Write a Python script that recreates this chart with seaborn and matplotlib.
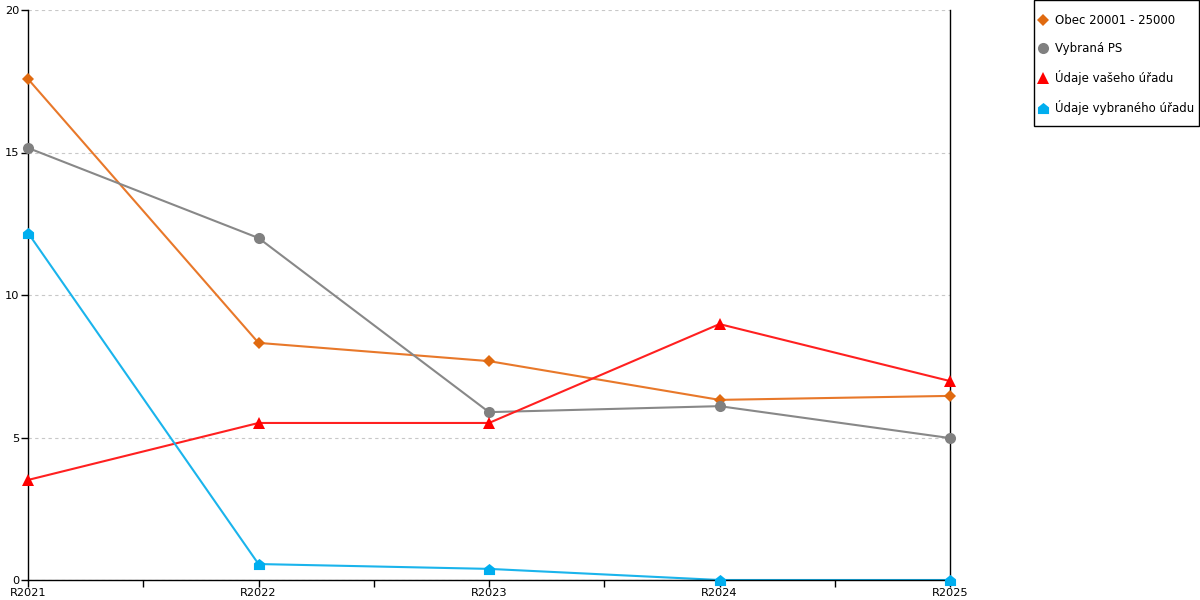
import matplotlib
matplotlib.use("Agg")
import matplotlib.pyplot as plt
import matplotlib.patches as mpatches
import seaborn as sns
import pandas as pd
import numpy as np
from matplotlib.path import Path

years = ["R2021", "R2022", "R2023", "R2024", "R2025"]
obec = [17.58, 8.32, 7.68, 6.32, 6.46]
vybrana_ps = [15.16, 12.0, 5.89, 6.1, 4.98]
vaseho = [3.51, 5.51, 5.51, 8.98, 6.98]
vybraneho = [12.18, 0.56, 0.39, 0.0, 0.0]

series_names = ["Obec 20001 - 25000", "Vybraná PS", "Údaje vašeho úřadu", "Údaje vybraného úřadu"]
series_vals = [obec, vybrana_ps, vaseho, vybraneho]

rows = []
for name, vals in zip(series_names, series_vals):
    for i, (y, v) in enumerate(zip(years, vals)):
        rows.append({"series": name, "x": i, "value": v})
df = pd.DataFrame(rows)

sns.set_theme(style="white")
plt.rcParams['font.family'] = ['DejaVu Sans']
plt.rcParams['text.color'] = 'black'
plt.rcParams['xtick.color'] = 'black'
plt.rcParams['ytick.color'] = 'black'

house = Path([(-1, -1), (1, -1), (1, 0.2), (0, 1), (-1, 0.2), (-1, -1)],
             [Path.MOVETO, Path.LINETO, Path.LINETO, Path.LINETO, Path.LINETO, Path.CLOSEPOLY])

colors = {"Obec 20001 - 25000": "#E8782A", "Vybraná PS": "#888888",
          "Údaje vašeho úřadu": "#FF2020", "Údaje vybraného úřadu": "#1AB4EC"}
mcolors = {"Obec 20001 - 25000": "#E06A10", "Vybraná PS": "#808080",
           "Údaje vašeho úřadu": "#FF0000", "Údaje vybraného úřadu": "#00AEEF"}
markers = {"Obec 20001 - 25000": "D", "Vybraná PS": "o",
           "Údaje vašeho úřadu": "^", "Údaje vybraného úřadu": house}
msizes = {"Obec 20001 - 25000": 6, "Vybraná PS": 8,
          "Údaje vašeho úřadu": 8, "Údaje vybraného úřadu": 8}

fig = plt.figure(figsize=(12, 6), dpi=100)
ax = fig.add_axes([28/1200, 20/600, (950-28)/1200, (580-10)/600])

handles = []
for name in series_names:
    sub = df[df.series == name]
    sns.lineplot(data=sub, x="x", y="value", ax=ax, color=colors[name], linewidth=1.5,
                 legend=False)
    h, = ax.plot(sub["x"], sub["value"], linestyle="none", marker=markers[name],
                 markersize=msizes[name], color=mcolors[name], markeredgewidth=0,
                 clip_on=False, zorder=5, label=name)
    handles.append(h)

ax.set_xlim(0, 4)
ax.set_ylim(0, 20)
ax.set_xticks(range(5))
ax.set_xticklabels(years)
ax.set_xticks([0.5, 1.5, 2.5, 3.5], minor=True)
ax.set_yticks([0, 5, 10, 15, 20])
ax.set_xlabel("")
ax.set_ylabel("")
ax.tick_params(axis="both", which="both", direction="out", length=5, width=1,
               color="black", labelcolor="black", labelsize=8.2, pad=1, bottom=True, left=True)
ax.yaxis.grid(True, linestyle=(0, (3, 3)), color="#C8C8C8", linewidth=0.8)
ax.xaxis.grid(False)
for s in ["left", "bottom", "right"]:
    ax.spines[s].set_visible(True)
    ax.spines[s].set_color("black")
    ax.spines[s].set_linewidth(1)
ax.spines["top"].set_visible(False)

# legend frame box
fig.patches.append(mpatches.Rectangle((1034/1200, 1 - 126/600), 165/1200, 125.5/600,
                                      transform=fig.transFigure, fill=False,
                                      edgecolor="black", linewidth=1))

leg = fig.legend(handles=handles, labels=series_names, loc="upper left",
                 bbox_to_anchor=(1039/1200, 1 - 14/600), frameon=False,
                 fontsize=8.45, labelspacing=1.27, handlelength=0.6, handletextpad=0.75,
                 borderpad=0, borderaxespad=0, labelcolor="black")

fig.savefig("out.png", dpi=100)
